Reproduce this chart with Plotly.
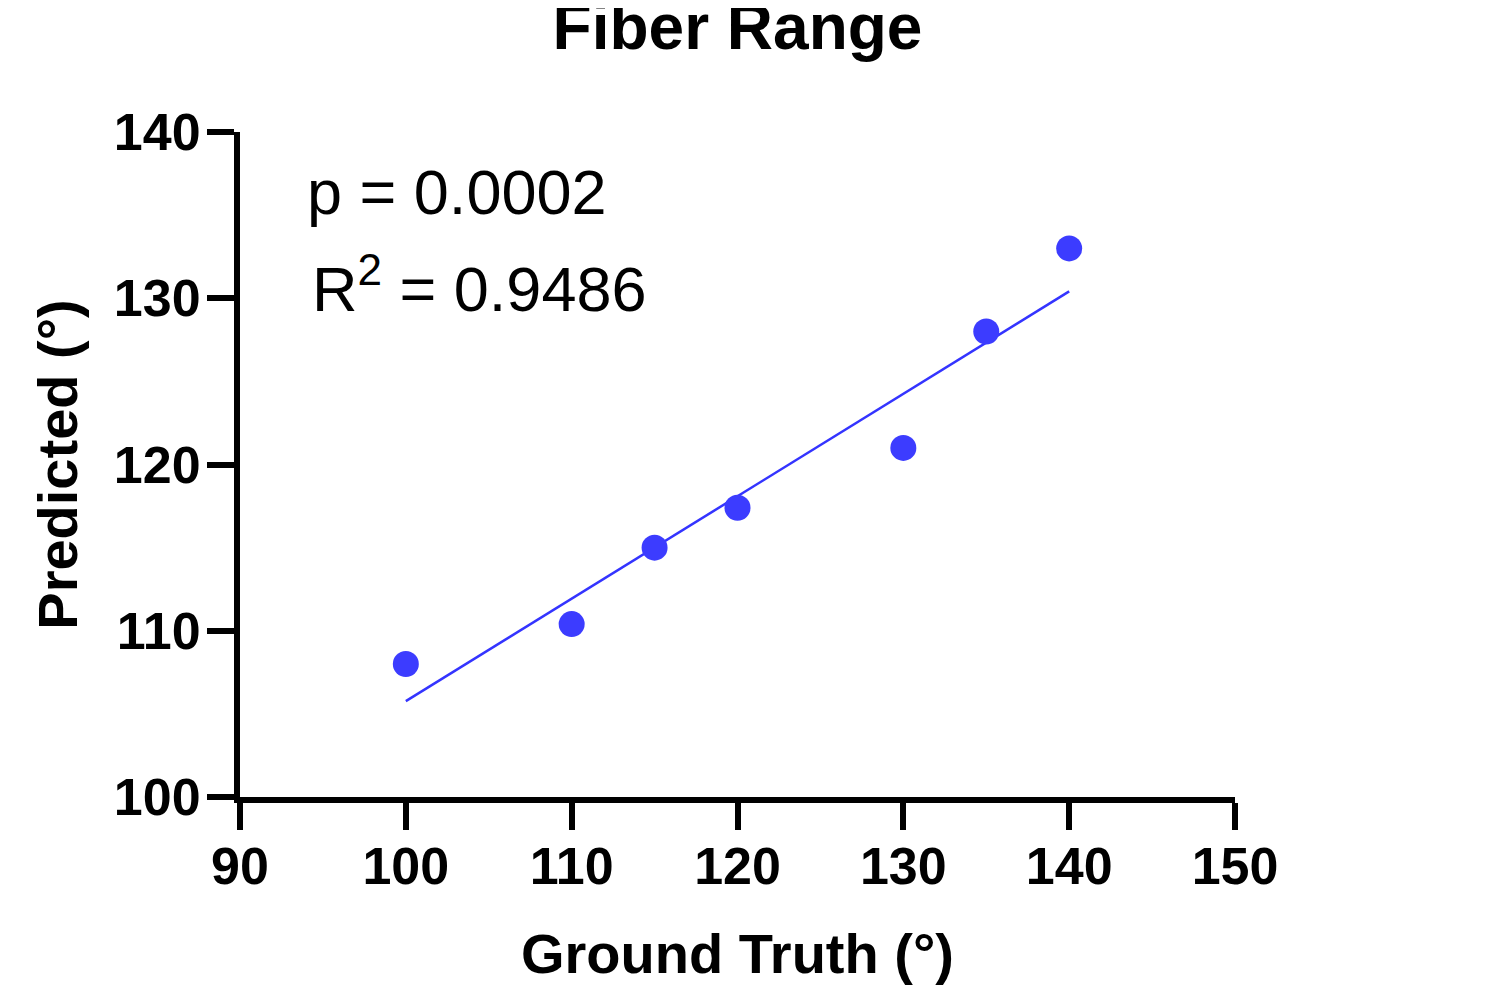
import numpy as np
import plotly.graph_objects as go

# Data
ground_truth = [100, 110, 115, 120, 130, 135, 140]
predicted = [108.0, 110.4, 115.0, 117.4, 121.0, 128.0, 133.0]
x_ticks = [90, 100, 110, 120, 130, 140, 150]
y_ticks = [100, 110, 120, 130, 140]
p_text = "p = 0.0002"
r2_text = "R<sup>2</sup> = 0.9486"

# Linear regression line across the range of the data
slope, intercept = np.polyfit(ground_truth, predicted, 1)
fit_x = [min(ground_truth), max(ground_truth)]
fit_y = [slope * v + intercept for v in fit_x]

BLUE = "#3c3cff"
FONT = "Liberation Sans, Arial, sans-serif"

fig = go.Figure()
fig.add_trace(go.Scatter(x=fit_x, y=fit_y, mode="lines",
                         line=dict(color="#3434ff", width=2.5),
                         showlegend=False, hoverinfo="skip"))
fig.add_trace(go.Scatter(x=ground_truth, y=predicted, mode="markers",
                         marker=dict(color=BLUE, size=26, line=dict(width=0)),
                         showlegend=False))

axis_common = dict(
    showline=True, linecolor="black", linewidth=6,
    ticks="outside", tickcolor="black", tickwidth=6, ticklen=27,
    showgrid=False, zeroline=False, mirror=False,
    tickfont=dict(family=FONT, size=52, color="black", weight="bold"),
)

# The page body adds an 8px margin, so the figure is 8px smaller than the window
fig.update_layout(
    width=1492, height=986,
    paper_bgcolor="white", plot_bgcolor="white",
    margin=dict(l=232, r=265, t=124, b=197),
    title=dict(text="<b>Fiber Range</b>", x=0.5, xref="paper", xanchor="center",
               y=0.981, yanchor="middle",
               font=dict(family=FONT, size=64, color="black")),
    xaxis=dict(range=[90, 150], tickvals=x_ticks, ticktext=[str(v) for v in x_ticks],
               ticklabelstandoff=-8,
               title=dict(text="<b>Ground Truth (°)</b>", standoff=41,
                          font=dict(family=FONT, size=56, color="black")),
               **axis_common),
    yaxis=dict(range=[100, 140], tickvals=y_ticks, ticktext=[str(v) for v in y_ticks],
               ticklabelstandoff=-4,
               title=dict(text="<b>Predicted (°)</b>", standoff=20,
                          font=dict(family=FONT, size=56, color="black")),
               **axis_common),
    showlegend=False,
)

fig.add_annotation(x=93.9, y=136.4, xref="x", yref="y", text=p_text,
                   showarrow=False, xanchor="left", yanchor="middle",
                   font=dict(family=FONT, size=63, color="black"))
fig.add_annotation(x=94.2, y=130.85, xref="x", yref="y", text=r2_text,
                   showarrow=False, xanchor="left", yanchor="middle",
                   font=dict(family=FONT, size=63, color="black"))

fig.write_html("out.html")
